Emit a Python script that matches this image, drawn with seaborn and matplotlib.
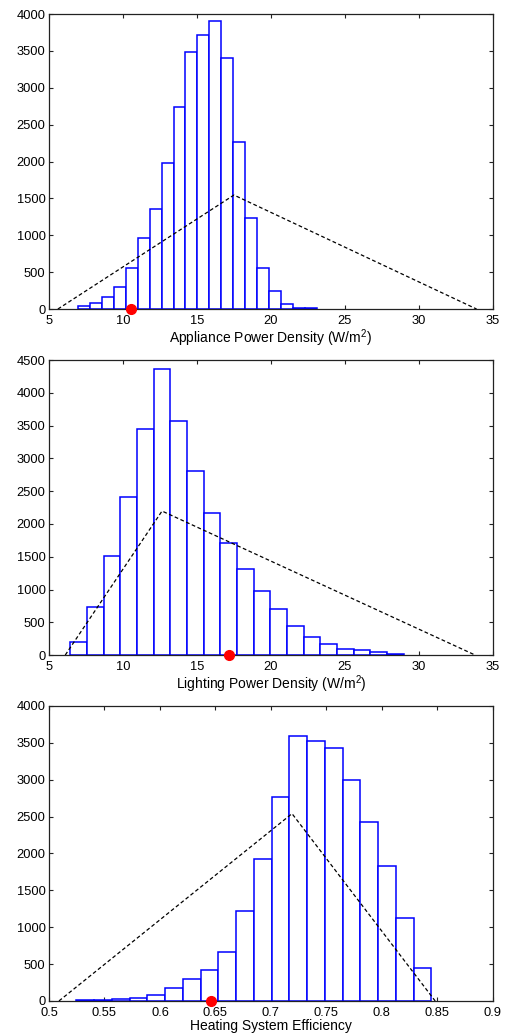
import numpy as np
import pandas as pd
import matplotlib
matplotlib.use('Agg')
import matplotlib.pyplot as plt
import seaborn as sns

# --- data ---
# appliance power density (W/m2)
app_bin_start, app_bin_width = 6.96, 0.807
app_counts = [40, 80, 160, 300, 560, 970, 1360, 1980, 2740, 3490,
              3710, 3900, 3400, 2260, 1240, 560, 240, 75, 20, 10]
app_tri_x = [5.6, 17.5, 33.9]
app_tri_y = [0, 1546, 0]
app_point = 10.56

# lighting power density (W/m2)
lig_bin_start, lig_bin_width = 6.44, 1.126
lig_counts = [203, 727, 1510, 2415, 3442, 4368, 3569, 2812, 2171, 1714,
              1317, 981, 702, 437, 269, 173, 97, 81, 51, 20]
lig_tri_x = [6.1, 12.64, 33.8]
lig_tri_y = [0, 2197, 0]
lig_point = 17.14

# heating system efficiency
heat_bin_start, heat_bin_width = 0.5246, 0.016
heat_counts = [14, 15, 27, 41, 86, 172, 294, 425, 664, 1225,
               1925, 2762, 3593, 3525, 3435, 3001, 2427, 1826, 1125, 447]
heat_tri_x = [0.509, 0.719, 0.848]
heat_tri_y = [0, 2540, 0]
heat_point = 0.646

panels = [
    dict(start=app_bin_start, width=app_bin_width, counts=app_counts,
         tri_x=app_tri_x, tri_y=app_tri_y, point=app_point,
         xlim=(5, 35), xticks=np.arange(5, 36, 5),
         ylim=(0, 4000), yticks=np.arange(0, 4001, 500),
         xlabel='Appliance Power Density (W/m$^2$)', pos=0.7014),
    dict(start=lig_bin_start, width=lig_bin_width, counts=lig_counts,
         tri_x=lig_tri_x, tri_y=lig_tri_y, point=lig_point,
         xlim=(5, 35), xticks=np.arange(5, 36, 5),
         ylim=(0, 4500), yticks=np.arange(0, 4501, 500),
         xlabel='Lighting Power Density (W/m$^2$)', pos=0.3671),
    dict(start=heat_bin_start, width=heat_bin_width, counts=heat_counts,
         tri_x=heat_tri_x, tri_y=heat_tri_y, point=heat_point,
         xlim=(0.5, 0.9), xticks=np.arange(0.5, 0.91, 0.05),
         ylim=(0, 4000), yticks=np.arange(0, 4001, 500),
         xlabel='Heating System Efficiency', pos=0.0329),
]

sns.set_style('ticks')
plt.rcParams['font.family'] = ['Liberation Sans', 'DejaVu Sans']
plt.rcParams['mathtext.fontset'] = 'custom'
plt.rcParams['mathtext.rm'] = 'Liberation Sans'

fig = plt.figure(figsize=(5.05, 10.35), dpi=100)

for p in panels:
    ax = fig.add_axes([0.097, p['pos'], 0.879, 0.285])
    n = len(p['counts'])
    edges = p['start'] + p['width'] * np.arange(n + 1)
    df = pd.DataFrame({'x': (edges[:-1] + edges[1:]) / 2, 'w': p['counts']})
    sns.histplot(data=df, x='x', weights='w', bins=edges.tolist(), ax=ax,
                 color='white', edgecolor='#0000ff', linewidth=1.1, alpha=1)
    ax.plot(p['tri_x'], p['tri_y'], color='black', lw=0.9,
            linestyle=(0, (3, 2)))
    ax.plot([p['point']], [0], 'o', color='#ff0000', markersize=7,
            clip_on=False, zorder=5)
    ax.set_xlim(*p['xlim'])
    ax.set_ylim(*p['ylim'])
    ax.set_xticks(p['xticks'])
    ax.set_yticks(p['yticks'])
    ax.set_xticklabels([f'{t:g}' for t in p['xticks']])
    ax.set_ylabel('')
    ax.set_xlabel(p['xlabel'], fontsize=10, labelpad=0, color='black')
    ax.tick_params(direction='in', top=True, right=True, length=3,
                   width=0.8, labelsize=9.3, colors='#222222',
                   labelcolor='black')
    ax.tick_params(axis='x', pad=4.5)
    ax.tick_params(axis='y', pad=2.5)
    for s in ax.spines.values():
        s.set_visible(True)
        s.set_linewidth(0.9)
        s.set_color('#222222')

plt.savefig('out.png', dpi=100)
plt.close()
